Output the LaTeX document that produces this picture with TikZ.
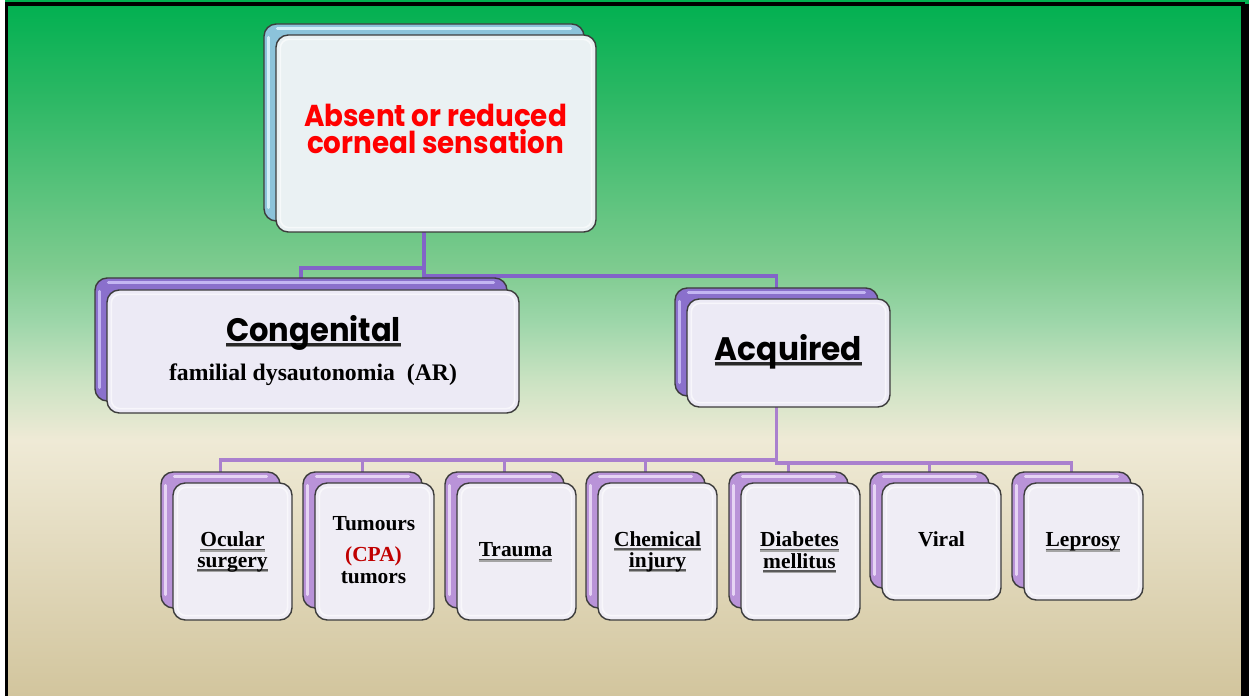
\documentclass[tikz,border=0pt]{standalone}
\usepackage{fontspec}
\setmainfont{Liberation Serif}
\newfontfamily\hdfont{Poppins}
\usetikzlibrary{fit,calc}
\definecolor{bgA}{RGB}{0,176,80}
\definecolor{bgA2}{RGB}{45,184,101}
\definecolor{bgB}{RGB}{126,203,143}
\definecolor{bgB2}{RGB}{156,214,169}
\definecolor{bgC}{RGB}{204,227,195}
\definecolor{bgD}{RGB}{239,234,214}
\definecolor{bgE}{RGB}{221,211,179}
\definecolor{bgF}{RGB}{210,197,157}
\definecolor{boxline}{RGB}{60,60,60}
\definecolor{blueback}{RGB}{140,195,218}
\definecolor{bluehl}{RGB}{210,238,248}
\definecolor{frontblue}{RGB}{234,241,243}
\definecolor{violetback}{RGB}{138,112,204}
\definecolor{violethl}{RGB}{195,182,242}
\definecolor{frontviolet}{RGB}{236,234,245}
\definecolor{purpleback}{RGB}{185,147,216}
\definecolor{purplehl}{RGB}{230,212,244}
\definecolor{frontpurple}{RGB}{239,237,245}
\definecolor{connA}{RGB}{130,100,200}
\definecolor{connB}{RGB}{170,128,206}
\definecolor{cpared}{RGB}{192,0,0}
\definecolor{ulgray}{RGB}{90,90,90}
\definecolor{uldark}{RGB}{40,40,40}
\pgfdeclareverticalshading{bgshade}{100bp}{color(0bp)=(bgF); color(25bp)=(bgF); color(31.9bp)=(bgE); color(43.4bp)=(bgD); color(47.5bp)=(bgC); color(52bp)=(bgB2); color(55.8bp)=(bgB); color(67.8bp)=(bgA2); color(75bp)=(bgA); color(100bp)=(bgA)}
\pgfdeclarelayer{bglayer}
\pgfdeclarelayer{connlayer}
\pgfsetlayers{bglayer,connlayer,main}
\newsavebox{\ulbox}
\newcommand{\serul}[1]{\sbox{\ulbox}{#1}\rlap{\color{ulgray!55}\rule[-3.1pt]{\wd\ulbox}{0.9pt}}\rlap{\color{ulgray}\rule[-2.2pt]{\wd\ulbox}{1.0pt}}\usebox{\ulbox}}
\newcommand{\hdul}[1]{\sbox{\ulbox}{#1}\rlap{\color{ulgray!70}\rule[-3.6pt]{\wd\ulbox}{1.0pt}}\rlap{\color{uldark}\rule[-2.6pt]{\wd\ulbox}{1.5pt}}\usebox{\ulbox}}
\tikzset{
  bx/.style={rounded corners=7pt, draw=boxline, line width=0.8pt, inner sep=0pt},
  hl/.style={line width=0.06cm, line cap=round},
  glass/.style={draw=white, opacity=0.6, line width=0.9pt, rounded corners=5pt},
  conna/.style={draw=connA, line width=0.075cm},
  connb/.style={draw=connB, line width=0.075cm},
  ttl/.style={font=\hdfont\bfseries\fontsize{17.2}{15.9}\selectfont, text=red, inner sep=0pt, align=center},
  hd/.style={font=\hdfont\bfseries\fontsize{18.5}{20}\selectfont, inner sep=0pt},
  ser/.style={font=\bfseries\fontsize{13.5}{15}\selectfont, inner sep=0pt},
  sm/.style={font=\bfseries\fontsize{12.2}{14}\selectfont, inner sep=0pt}
}
\begin{document}
\begin{tikzpicture}[x=0.02cm,y=-0.02cm]
\useasboundingbox (0,0) rectangle (1249,696);
\begin{pgfonlayer}{bglayer}
\fill[shading=bgshade] (0,0) rectangle (1249,696);
\fill[white] (0,0) rectangle (5,696);
\draw[black, line width=0.07cm] (6.5,700) -- (6.5,4) -- (1243,4) -- (1243,700);
\fill[black] (1244,4) rectangle (1249,700);
\end{pgfonlayer}

% top box
\node[bx, fill=blueback, fit={(264,24) (584,221)}] (topB) {};
\draw[hl, bluehl] ($(topB.north west)+(5,14)$) -- ($(topB.south west)+(5,-14)$);
\draw[hl, bluehl] ($(topB.north west)+(14,5)$) -- ($(topB.north east)+(-14,5)$);
\node[bx, fill=frontblue, fit={(276,35) (596,232)}] (top) {};
\draw[glass] ($(top.north west)+(5,5)$) rectangle ($(top.south east)+(-5,-5)$);
\node[ttl, anchor=base] (t1) at (435.5,154) {\scalebox{0.92}[1]{Absent or reduced}\\\scalebox{0.92}[1]{corneal sensation}};

% congenital
\node[bx, fill=violetback, fit={(95,278) (507,401)}] (congB) {};
\draw[hl, violethl] ($(congB.north west)+(5,14)$) -- ($(congB.south west)+(5,-14)$);
\draw[hl, violethl] ($(congB.north west)+(14,5)$) -- ($(congB.north east)+(-14,5)$);
\node[bx, fill=frontviolet, fit={(107,290) (519,413)}] (cong) {};
\draw[glass] ($(cong.north west)+(5,5)$) rectangle ($(cong.south east)+(-5,-5)$);
\node[hd, anchor=base] (c1) at (313.5,341) {\scalebox{0.94}[1]{\hdul{Congenital}}};
\node[ser, anchor=base] (c2) at (313,380) {familial dysautonomia\ \ (AR)};

% acquired
\node[bx, fill=violetback, fit={(675,288) (878,396)}] (acqB) {};
\draw[hl, violethl] ($(acqB.north west)+(5,14)$) -- ($(acqB.south west)+(5,-14)$);
\draw[hl, violethl] ($(acqB.north west)+(14,5)$) -- ($(acqB.north east)+(-14,5)$);
\node[bx, fill=frontviolet, fit={(687,299) (890,407)}] (acq) {};
\draw[glass] ($(acq.north west)+(5,5)$) rectangle ($(acq.south east)+(-5,-5)$);
\node[hd, anchor=base] (a1) at (788.5,360) {\scalebox{0.96}[1]{\hdul{Acquired}}};

% bottom back boxes
\foreach \nm/\lx/\by in {oB/173/620, tuB/315/620, trB/457/620, chB/598/620, diB/741/620, viB/882/600, leB/1024/600} {
  \node[bx, fill=purpleback, fit={(\lx-12,472) (\lx+107,\by-12)}] (\nm) {};
  \draw[hl, purplehl] ($(\nm.north west)+(5,14)$) -- ($(\nm.south west)+(5,-14)$);
  \draw[hl, purplehl] ($(\nm.north west)+(14,5)$) -- ($(\nm.north east)+(-14,5)$);
}
% bottom front boxes
\foreach \nm/\lx/\by in {o/173/620, tu/315/620, tr/457/620, ch/598/620, di/741/620, vi/882/600, le/1024/600} {
  \node[bx, fill=frontpurple, fit={(\lx,483) (\lx+119,\by)}] (\nm) {};
  \draw[glass] ($(\nm.north west)+(5,5)$) rectangle ($(\nm.south east)+(-5,-5)$);
}
\node[sm, anchor=base] (o1) at (232.5,546.5) {\serul{Ocular}};
\node[sm, anchor=base] (o2) at (232.5,567) {\serul{surgery}};
\node[sm, anchor=base] (tu1) at (374,530) {Tumours};
\node[sm, anchor=base, text=cpared] (tu2) at (373.5,561.5) {(CPA)};
\node[sm, anchor=base] (tu3) at (373.5,583) {tumors};
\node[sm, anchor=base] (tr1) at (515.5,556.5) {\serul{Trauma}};
\node[sm, anchor=base] (ch1) at (657.5,546) {\serul{Chemical}};
\node[sm, anchor=base] (ch2) at (657.5,567) {\serul{injury}};
\node[sm, anchor=base] (di1) at (799.5,546.5) {\serul{Diabetes}};
\node[sm, anchor=base] (di2) at (799.5,568) {\serul{mellitus}};
\node[sm, anchor=base] (vi1) at (941.5,546.5) {Viral};
\node[sm, anchor=base] (le1) at (1083,546.5) {\serul{Leprosy}};

% connectors
\begin{pgfonlayer}{connlayer}
\coordinate (e1) at (0,268);
\coordinate (e2) at (0,276);
\coordinate (e3) at (0,460);
\coordinate (e4) at (0,463);
\draw[conna] (topB.center) -- (topB.center |- e1) -| (congB.center);
\draw[conna] (topB.center) -- (topB.center |- e2) -| (acqB.center);
\foreach \c in {oB,tuB,trB,chB} \draw[connb] (acqB.center) -- (acqB.center |- e3) -| (\c.center);
\foreach \c in {diB,viB,leB} \draw[connb] (acqB.center) -- (acqB.center |- e4) -| (\c.center);
\end{pgfonlayer}
\end{tikzpicture}
\end{document}
